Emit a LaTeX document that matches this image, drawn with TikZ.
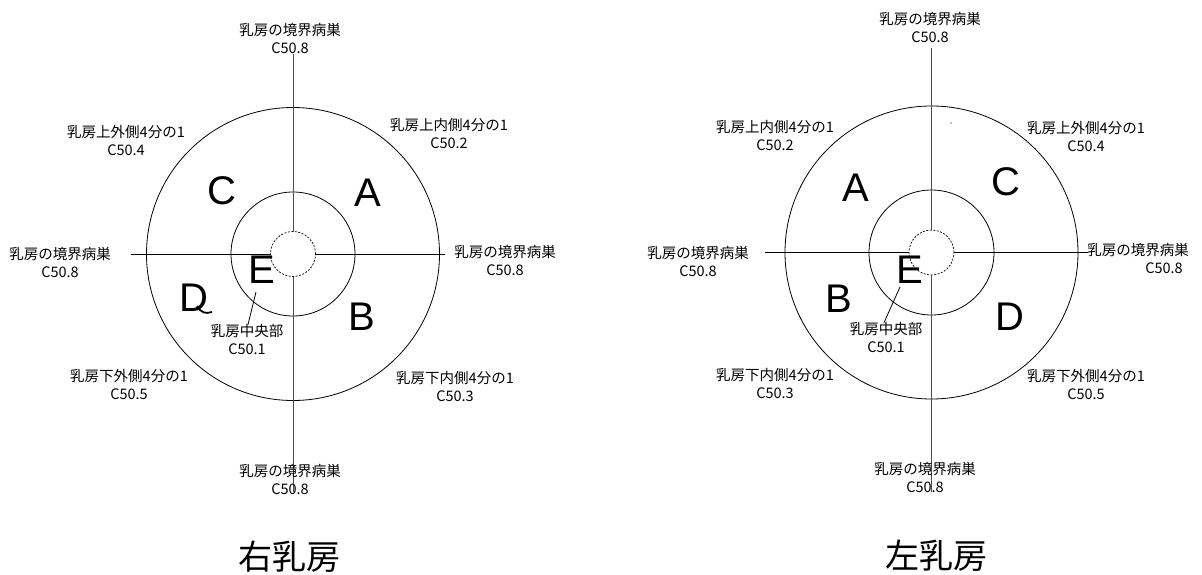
\documentclass[tikz,border=0pt]{standalone}
\usepackage{fontspec}
\setmainfont{Noto Sans CJK JP}
\newfontfamily\latinfont{Liberation Sans}
\begin{document}
\begin{tikzpicture}[x=1pt,y=-1pt,
  lab/.style={align=center,font=\fontsize{14.5}{18}\selectfont,inner sep=0pt},
  big/.style={font=\latinfont\fontsize{40}{40}\selectfont,inner sep=0pt},
  ttl/.style={font=\fontsize{34}{34}\selectfont,inner sep=0pt},
  ring/.style={draw,circle,inner sep=0pt,outer sep=0pt,line width=0.8pt},
  core/.style={draw,circle,inner sep=0pt,outer sep=0pt,line width=0.7pt,dash pattern=on 2pt off 1.5pt},
  vline/.style={draw,black!70,line width=1pt},
  hline/.style={draw,black,line width=0.9pt},
  leader/.style={draw,line width=0.8pt}]
\useasboundingbox (0,0) rectangle (1202,575);

% ---------- right breast (left diagram) ----------
\node[ring,minimum size=293pt] (Rout) at (293,254) {};
\node[ring,minimum size=124pt] (Rin) at (293,254) {};
\node[core,minimum size=45pt] (Rcore) at (293,254) {};
\coordinate (Rtop) at (293,54);
\coordinate (Rbot) at (293,492);
\coordinate (Rleft) at (131,254);
\coordinate (Rright) at (445,254);
\draw[vline] (Rcore.north) -- (Rtop);
\draw[vline] (Rcore.south) -- (Rbot);
\draw[hline] (Rcore.west) -- (Rleft);
\draw[hline] (Rcore.east) -- (Rright);

\node[lab] (RlT) at (290,38) {乳房の境界病巣\\C50.8};
\node[lab] (RlB) at (290,479) {乳房の境界病巣\\C50.8};
\node[lab] (RlL) at (60,262) {乳房の境界病巣\\C50.8};
\node[lab] (RlR) at (505,260) {乳房の境界病巣\\C50.8};
\node[lab] (RlTR) at (449,134) {乳房上内側4分の1\\C50.2};
\node[lab] (RlTL) at (126,140) {乳房上外側4分の1\\C50.4};
\node[lab] (RlBL) at (129,384) {乳房下外側4分の1\\C50.5};
\node[lab] (RlBR) at (455,387) {乳房下内側4分の1\\C50.3};
\node[lab] (RlC) at (247,340) {乳房中央部\\C50.1};

\node[big] (RA) at (368,193) {A};
\node[big] (RC) at (222,191) {C};
\node[big] (RD) at (194,298) {D};
\node[big] (RB) at (362,317) {B};
\node[big] (RE) at (262,270) {E};
\coordinate (REl) at (256,292);
\draw[leader] (REl) -- (RlC.north -| 248,0);
\draw[line width=1.8pt] (197,306) .. controls (201,313) and (206,314) .. (212,312);

\node[ttl] (Rt) at (289,557) {右乳房};

% ---------- left breast (right diagram) ----------
\node[ring,minimum size=293pt] (Lout) at (931.5,252.5) {};
\node[ring,minimum size=125pt] (Lin) at (931.5,252.5) {};
\node[core,minimum size=45pt] (Lcore) at (931.5,252.5) {};
\coordinate (Ltop) at (931.5,48);
\coordinate (Lbot) at (931.5,492);
\coordinate (Lleft) at (765,252.5);
\coordinate (Lright) at (1088,252.5);
\draw[vline] (Lcore.north) -- (Ltop);
\draw[vline] (Lcore.south) -- (Lbot);
\draw[hline] (Lcore.west) -- (Lleft);
\draw[hline] (Lcore.east) -- (Lright);

\node[lab] (LlT) at (930,27) {乳房の境界病巣\\C50.8};
\node[lab] (LlB) at (925,477) {乳房の境界病巣\\C50.8};
\node[lab] (LlL) at (698,261) {乳房の境界病巣\\C50.8};
\node[lab,align=right] (LlR) at (1138,258) {乳房の境界病巣\\C50.8\hspace*{6pt}};
\node[lab] (LlTL) at (775,136) {乳房上内側4分の1\\C50.2};
\node[lab] (LlTR) at (1086,136) {乳房上外側4分の1\\C50.4};
\node[lab] (LlBL) at (775,384) {乳房下内側4分の1\\C50.3};
\node[lab] (LlBR) at (1086,384) {乳房下外側4分の1\\C50.5};
\node[lab] (LlC) at (886,338) {乳房中央部\\C50.1};

\node[big] (LA) at (856,188) {A};
\node[big] (LC) at (1006,182) {C};
\node[big] (LB) at (839,299) {B};
\node[big] (LD) at (1010,317) {D};
\node[big] (LE) at (910,270) {E};
\coordinate (LEl) at (900,287);
\draw[leader] (LEl) -- (LlC.north -| 884,0);
\fill (951,123) circle (0.6pt);

\node[ttl] (Lt) at (936,556) {左乳房};
\end{tikzpicture}
\end{document}
